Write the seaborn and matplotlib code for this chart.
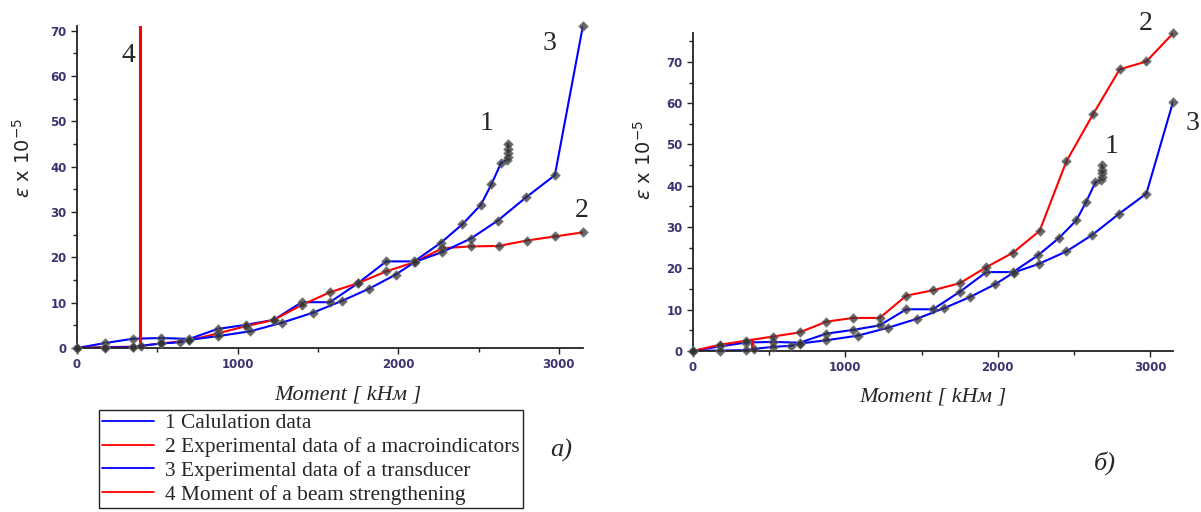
import matplotlib
matplotlib.use("Agg")
import numpy as np
import pandas as pd
import matplotlib.pyplot as plt
import seaborn as sns
from matplotlib.lines import Line2D
from matplotlib.ticker import MultipleLocator

# moment steps [kNm] used by the macroindicator readings
moment = [0, 175, 350, 525, 700, 875, 1050, 1225, 1400, 1575, 1750,
          1925, 2100, 2275, 2450, 2625, 2800, 2975, 3150]

# 1 - calculation data (same in both panels)
calc_m = [0, 175, 350, 525, 700, 875, 1050, 1225, 1400, 1575, 1750, 1925,
          2100, 2265, 2400, 2515, 2580, 2640, 2680, 2682, 2684, 2684, 2683]
calc_e = [0, 1.1, 2.05, 2.2, 2.0, 4.2, 5.1, 6.2, 10.1, 10.1, 14.3, 19.1,
          19.1, 23.2, 27.3, 31.6, 36.1, 40.8, 41.5, 42.2, 43.0, 43.8, 45.0]

# 2 - macroindicators, panel a) and panel b)
macro_a = [0, 0.2, 0.3, 1.0, 1.7, 3.2, 4.8, 6.2, 9.5, 12.3, 14.3, 16.9,
           18.9, 22.0, 22.4, 22.5, 23.7, 24.6, 25.5]
macro_b = [0, 1.5, 2.5, 3.5, 4.5, 7.1, 8.0, 8.0, 13.4, 14.7, 16.4, 20.3,
           23.8, 29.1, 45.9, 57.3, 68.2, 70.1, 76.9]

# 3 - transducer
trans_m = [0, 175, 350, 400, 525, 640, 700, 875, 1080, 1278, 1470, 1650,
           1820, 1985, 2105, 2270, 2450, 2620, 2795, 2975, 3150]
trans_a = [0, 0.1, 0.2, 0.5, 1.0, 1.25, 1.8, 2.6, 3.7, 5.6, 7.8, 10.4,
           13.1, 16.2, 19.0, 21.1, 24.1, 28.1, 33.2, 38.1, 71.1]
trans_b = [0, 0.1, 0.2, 0.5, 1.0, 1.25, 1.8, 2.6, 3.7, 5.6, 7.8, 10.4,
           13.1, 16.2, 19.0, 21.1, 24.1, 28.1, 33.2, 38.1, 60.3]

# 4 - moment of beam strengthening
strength_m = [390, 390]
strength_a = [0, 71]
strength_b = [0, 2.6]

legend_labels = ["1 Calulation data",
                 "2 Experimental data of a macroindicators",
                 "3 Experimental data of a transducer",
                 "4 Moment of a beam strengthening"]

BLUE = "#0000ff"
RED = "#ff0000"
pal = {"1": BLUE, "2": RED, "3": BLUE, "4": RED}


def make_df(macro, trans, strength):
    parts = [
        pd.DataFrame({"m": calc_m, "e": calc_e, "curve": "1"}),
        pd.DataFrame({"m": moment, "e": macro, "curve": "2"}),
        pd.DataFrame({"m": trans_m, "e": trans, "curve": "3"}),
        pd.DataFrame({"m": strength_m, "e": strength, "curve": "4"}),
    ]
    return pd.concat(parts, ignore_index=True)


sns.set_style("ticks")
plt.rcParams["font.family"] = ["DejaVu Sans"]

fig = plt.figure(figsize=(12.01, 5.12), dpi=100)
ax1 = fig.add_axes([0.0641, 0.3203, 0.4213, 0.6289])
ax2 = fig.add_axes([0.5770, 0.3145, 0.3997, 0.6211])

serif = ["Liberation Serif", "DejaVu Serif"]

for ax, macro, trans, strength, ytop in [(ax1, macro_a, trans_a, strength_a, 71),
                                         (ax2, macro_b, trans_b, strength_b, 77)]:
    df = make_df(macro, trans, strength)
    lines = df[df.curve != "4"]
    sns.lineplot(data=lines, x="m", y="e", hue="curve", palette=pal,
                 estimator=None, sort=False, legend=False, linewidth=1.5, ax=ax)
    sns.lineplot(data=df[df.curve == "4"], x="m", y="e", color=RED,
                 estimator=None, sort=False, legend=False, linewidth=2.2, ax=ax)
    sns.scatterplot(data=lines, x="m", y="e", color="#333333", marker="D",
                    s=24, alpha=0.75, edgecolor="#777777", linewidth=0.6,
                    legend=False, ax=ax, clip_on=False, zorder=5)

    ax.set_xlim(0, 3150)
    ax.set_ylim(0, ytop)
    ax.xaxis.set_major_locator(MultipleLocator(1000))
    ax.xaxis.set_minor_locator(MultipleLocator(500))
    ax.yaxis.set_major_locator(MultipleLocator(10))
    ax.yaxis.set_minor_locator(MultipleLocator(5))
    ax.tick_params(axis="both", which="major", direction="out", length=4,
                   width=1, color="#222222", labelsize=8.5,
                   labelcolor="#3b3470", bottom=True, left=True)
    ax.tick_params(axis="both", which="minor", direction="out", length=3,
                   width=1, color="#222222", bottom=True, left=True)
    ax.tick_params(axis="x", pad=3)
    for lab in ax.get_xticklabels() + ax.get_yticklabels():
        lab.set_fontweight("bold")
    for side in ["top", "right"]:
        ax.spines[side].set_visible(False)
    for side in ["left", "bottom"]:
        ax.spines[side].set_color("#222222")
        ax.spines[side].set_linewidth(1.3)

    ax.set_xlabel("Moment [ kHм ]", fontsize=16, style="italic", family=serif)
    ax.set_ylabel(r"$\varepsilon$ x 10$^{-5}$", fontsize=14)

ax1.xaxis.set_label_coords(0.535, -0.115)
ax2.xaxis.set_label_coords(0.5, -0.115)
ax1.yaxis.set_label_coords(-0.085, 0.59)
ax2.yaxis.set_label_coords(-0.079, 0.60)

# curve numbers
for ax, pts in [(ax1, [("4", 317, 64.5), ("1", 2551, 49.5), ("3", 2943, 67.1), ("2", 3142, 30.4)]),
                (ax2, [("2", 2970, 79.3), ("1", 2745, 49.6), ("3", 3280, 55.0)])]:
    for t, x, y in pts:
        ax.text(x, y, t, fontsize=20, family=serif, ha="center", va="center",
                clip_on=False)

fig.text(561 / 1201, 1 - 450 / 512, "a)", fontsize=19, family=serif,
         style="italic", ha="center", va="center")
fig.text(1105 / 1201, 1 - 463 / 512, "б)", fontsize=19, family=serif,
         style="italic", ha="center", va="center")

handles = [Line2D([], [], color=c, linewidth=1.3) for c in [BLUE, RED, BLUE, RED]]
leg = fig.legend(handles, legend_labels, loc="upper left",
                 bbox_to_anchor=(99 / 1201, 1 - 410 / 512),
                 prop={"family": serif, "size": 15.4}, frameon=True,
                 fancybox=False, edgecolor="#222222", framealpha=1,
                 borderpad=0.15, labelspacing=0.18, handlelength=2.4,
                 handletextpad=0.55, borderaxespad=0)
leg.get_frame().set_linewidth(1.0)

fig.savefig("out.png", dpi=100)
